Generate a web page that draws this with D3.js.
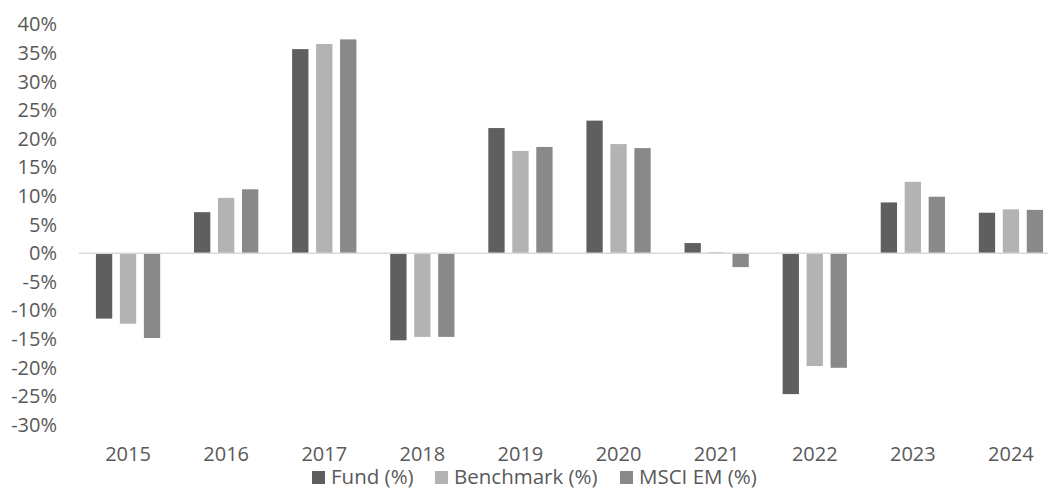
<!DOCTYPE html>
<html>
<head>
<meta charset="utf-8">
<script src="https://cdn.jsdelivr.net/npm/d3@7"></script>
<style>
  body { margin: 0; background: #fff; }
  svg { display: block; font-family: "Open Sans", sans-serif; }
</style>
</head>
<body>
<svg></svg>
<script>
var years = ["2015", "2016", "2017", "2018", "2019", "2020", "2021", "2022", "2023", "2024"];
var seriesNames = ["Fund (%)", "Benchmark (%)", "MSCI EM (%)"];
var fund = [-11.4, 7.2, 35.7, -15.2, 21.9, 23.2, 1.8, -24.6, 8.9, 7.1];
var benchmark = [-12.3, 9.7, 36.6, -14.6, 17.9, 19.1, 0.2, -19.7, 12.5, 7.7];
var msciEm = [-14.8, 11.2, 37.4, -14.6, 18.6, 18.4, -2.4, -20.0, 9.9, 7.6];
var yTicks = [-30, -25, -20, -15, -10, -5, 0, 5, 10, 15, 20, 25, 30, 35, 40];

var colors = ["#5f5f5f", "#b3b3b3", "#898989"];
var textColor = "#595959";

var width = 1048;
var height = 489;

var svg = d3.select("svg").attr("width", width).attr("height", height);

var values = [fund, benchmark, msciEm];
var data = years.map(function(yr, i) {
  return { year: yr, vals: values.map(function(v, s) { return { s: s, v: v[i] }; }) };
});

var x = d3.scaleBand()
  .domain(years)
  .range([79, 1060])
  .paddingInner(0.345)
  .paddingOuter(0.1725);

var xs = d3.scaleBand()
  .domain(d3.range(seriesNames.length))
  .range([0, x.bandwidth()])
  .paddingInner(0.32)
  .paddingOuter(0);

var y = d3.scaleLinear()
  .domain([-30, 40])
  .range([425, 24.5]);

// y labels, no axis line
var yAxis = d3.axisLeft(y)
  .tickValues(yTicks)
  .tickSize(0)
  .tickPadding(0)
  .tickFormat(function(d) { return d + "%"; });
var gy = svg.append("g")
    .attr("transform", "translate(57,0)")
  .call(yAxis);
gy.select(".domain").remove();
gy.selectAll("text")
  .attr("fill", textColor)
  .style("font-size", "20px")
  .style("font-family", "'Open Sans', sans-serif");

// bars
var groups = svg.selectAll("g.year")
  .data(data)
  .enter().append("g")
    .attr("class", "year")
    .attr("transform", function(d) { return "translate(" + x(d.year) + ",0)"; });

groups.selectAll("rect")
  .data(function(d) { return d.vals; })
  .enter().append("rect")
    .attr("x", function(d) { return xs(d.s); })
    .attr("width", xs.bandwidth())
    .attr("y", function(d) { return y(Math.max(0, d.v)); })
    .attr("height", function(d) { return Math.abs(y(d.v) - y(0)); })
    .attr("fill", function(d) { return colors[d.s]; });

// zero line
svg.append("line")
  .attr("x1", 79)
  .attr("x2", width)
  .attr("y1", y(0))
  .attr("y2", y(0))
  .attr("stroke", "#d9d9d9")
  .attr("stroke-width", 1.5);

// year labels
svg.selectAll("text.year")
  .data(years)
  .enter().append("text")
    .attr("class", "year")
    .attr("x", function(d) { return x(d) + x.bandwidth() / 2; })
    .attr("y", 461)
    .attr("text-anchor", "middle")
    .attr("fill", textColor)
    .style("font-size", "20px")
    .text(function(d) { return d; });

// legend
var legendX = [312, 435, 620];
var legend = svg.selectAll("g.legend")
  .data(seriesNames)
  .enter().append("g")
    .attr("class", "legend")
    .attr("transform", function(d, i) { return "translate(" + legendX[i] + ",471)"; });
legend.append("rect")
  .attr("width", 13)
  .attr("height", 13)
  .attr("fill", function(d, i) { return colors[i]; });
legend.append("text")
  .attr("x", 19)
  .attr("y", 12.5)
  .attr("fill", textColor)
  .style("font-size", "20.5px")
  .text(function(d) { return d; });
</script>
</body>
</html>
